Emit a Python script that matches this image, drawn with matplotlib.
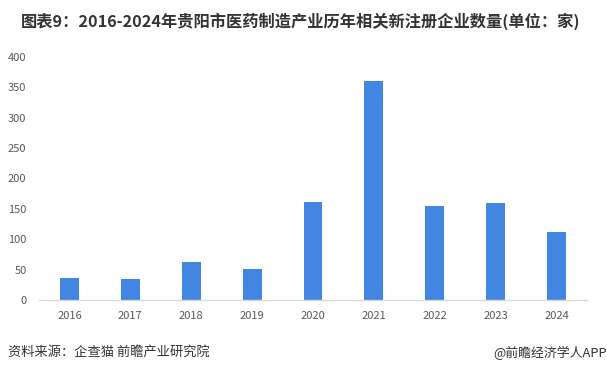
import matplotlib
matplotlib.use("Agg")
import matplotlib.pyplot as plt

plt.rcParams["font.family"] = ["Noto Sans CJK SC", "DejaVu Sans"]

years = ["2016", "2017", "2018", "2019", "2020", "2021", "2022", "2023", "2024"]
counts = [36, 35, 63, 51, 162, 360, 155, 160, 112]
yticks = [0, 50, 100, 150, 200, 250, 300, 350, 400]

title = "图表9：2016-2024年贵阳市医药制造产业历年相关新注册企业数量(单位：家)"
source = "资料来源：企查猫 前瞻产业研究院"
credit = "@前瞻经济学人APP"

fig = plt.figure(figsize=(6.07, 3.71), dpi=100)
ax = fig.add_axes([0.0643, 0.1914, 0.9027, 0.655])

x = range(len(years))
ax.bar(x, counts, width=0.31, color="#4286E2", zorder=2)

ax.set_xlim(-0.5, len(years) - 0.5)
ax.set_ylim(0, 400)
ax.set_yticks(yticks)
ax.set_xticks(list(x))
ax.set_xticklabels(years)

for side in ["top", "right", "left"]:
    ax.spines[side].set_visible(False)
ax.spines["bottom"].set_color("#d9d9d9")
ax.spines["bottom"].set_linewidth(1.0)
ax.tick_params(axis="both", length=0, labelsize=8, labelcolor="#595959")
ax.tick_params(axis="y", pad=9)
ax.tick_params(axis="x", pad=8)

fig.text(0.034, 0.943, title, fontsize=11.7, fontweight="bold", color="#333333",
         ha="left", va="center")
fig.text(0.013, 0.05, source, fontsize=9.5, color="#333333", ha="left", va="center")
fig.text(0.999, 0.05, credit, fontsize=9.3, color="#333333", ha="right", va="center")

fig.savefig("out.png", dpi=100)
plt.close(fig)
